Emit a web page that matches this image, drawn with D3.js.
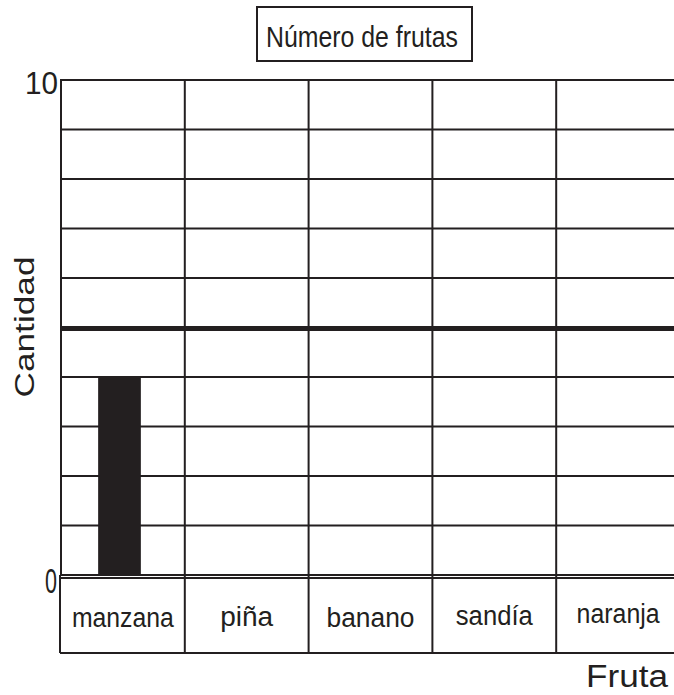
<!DOCTYPE html>
<html>
<head>
<meta charset="utf-8">
<script src="https://cdn.jsdelivr.net/npm/d3@7"></script>
<style>
  html, body { margin: 0; padding: 0; background: #fff; }
  svg { display: block; }
  text { font-family: "Liberation Sans", Arial, sans-serif; fill: #231f20; }
</style>
</head>
<body>
<svg id="chart" width="674" height="695"></svg>
<script>
// Fruit counts
const categories = ["manzana", "piña", "banano", "sandía", "naranja"];
const values = [4, null, null, null, null];
const yTicks = [0, 10];
const referenceLine = 5;
const title = "Número de frutas";
const xTitle = "Fruta";
const yTitle = "Cantidad";

// Rendered widths of each text (px), for the narrow/wide lettering
const labelWidths = { "manzana": 102, "piña": 53, "banano": 88, "sandía": 77, "naranja": 83 };
const labelBaselines = { "manzana": 627, "piña": 626, "banano": 627, "sandía": 625, "naranja": 623 };

const ink = "#231f20";
const svg = d3.select("#chart");

const plotLeft = 61, plotRight = 680, plotTop = 80, plotBottom = 575;
const x = d3.scaleBand().domain(categories).range([plotLeft, plotRight]);
const y = d3.scaleLinear().domain([0, 10]).range([plotBottom, plotTop]);

// Horizontal grid, one line per unit
svg.append("g").selectAll("line")
  .data(d3.range(0, 11))
  .join("line")
  .attr("x1", plotLeft).attr("x2", plotRight)
  .attr("y1", d => y(d)).attr("y2", d => y(d))
  .attr("stroke", ink).attr("stroke-width", 2);

// Column dividers
svg.append("g").selectAll("line")
  .data(categories)
  .join("line")
  .attr("x1", d => x(d)).attr("x2", d => x(d))
  .attr("y1", y(10) - 1).attr("y2", y(0))
  .attr("stroke", ink).attr("stroke-width", 2);

// Bars
svg.append("g").selectAll("rect")
  .data(categories.map((c, i) => ({ c, v: values[i] })).filter(d => d.v != null))
  .join("rect")
  .attr("x", d => x(d.c) + x.bandwidth() * 0.30)
  .attr("width", x.bandwidth() * 0.345)
  .attr("y", d => y(d.v))
  .attr("height", d => y(0) - y(d.v))
  .attr("fill", ink);

// Reference line
svg.append("line")
  .attr("x1", plotLeft).attr("x2", plotRight)
  .attr("y1", y(referenceLine) + 1).attr("y2", y(referenceLine) + 1)
  .attr("stroke", ink).attr("stroke-width", 5);

// Y axis tick labels
svg.append("g").selectAll("text")
  .data(yTicks)
  .join("text")
  .attr("x", d => d === 0 ? 57 : 58)
  .attr("y", d => d === 0 ? y(d) + 18 : y(d) + 14)
  .attr("text-anchor", "end")
  .attr("font-size", d => d === 0 ? 35 : 31)
  .attr("textLength", d => d === 0 ? 12 : 33)
  .attr("lengthAdjust", "spacingAndGlyphs")
  .text(d => d);

// Category label boxes
const boxTop = 578, boxBottom = 653, boxLeft = 60;
const labels = svg.append("g");
labels.append("line")
  .attr("x1", boxLeft).attr("x2", plotRight)
  .attr("y1", boxTop).attr("y2", boxTop)
  .attr("stroke", ink).attr("stroke-width", 2);
labels.append("line")
  .attr("x1", boxLeft).attr("x2", plotRight)
  .attr("y1", boxBottom).attr("y2", boxBottom)
  .attr("stroke", ink).attr("stroke-width", 2);
labels.selectAll("line.div")
  .data(categories)
  .join("line")
  .attr("class", "div")
  .attr("x1", (d, i) => i === 0 ? boxLeft : x(d))
  .attr("x2", (d, i) => i === 0 ? boxLeft : x(d))
  .attr("y1", boxTop - 3).attr("y2", boxBottom)
  .attr("stroke", ink).attr("stroke-width", 2);
labels.selectAll("text")
  .data(categories)
  .join("text")
  .attr("x", d => x(d) + x.bandwidth() / 2)
  .attr("y", d => labelBaselines[d])
  .attr("text-anchor", "middle")
  .attr("font-size", 27)
  .attr("textLength", d => labelWidths[d])
  .attr("lengthAdjust", "spacingAndGlyphs")
  .text(d => d);

// Title box
const tg = svg.append("g");
tg.append("rect")
  .attr("x", 257).attr("y", 7).attr("width", 215).attr("height", 54)
  .attr("fill", "#fff").attr("stroke", ink).attr("stroke-width", 2);
tg.append("text")
  .attr("x", 362).attr("y", 47)
  .attr("text-anchor", "middle")
  .attr("font-size", 30)
  .attr("textLength", 192)
  .attr("lengthAdjust", "spacingAndGlyphs")
  .text(title);

// Axis titles
svg.append("text")
  .attr("x", 668).attr("y", 687)
  .attr("text-anchor", "end")
  .attr("font-size", 31)
  .attr("textLength", 82)
  .attr("lengthAdjust", "spacingAndGlyphs")
  .text(xTitle);
svg.append("text")
  .attr("transform", "translate(34,327) rotate(-90)")
  .attr("text-anchor", "middle")
  .attr("font-size", 27)
  .attr("textLength", 141)
  .attr("lengthAdjust", "spacingAndGlyphs")
  .text(yTitle);
</script>
</body>
</html>
